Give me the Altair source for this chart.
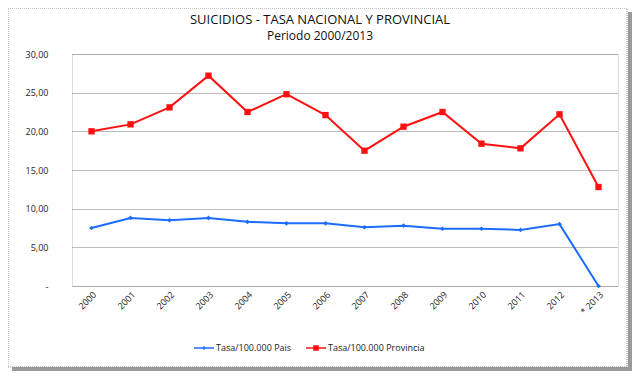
import altair as alt
import pandas as pd

years = ["2000", "2001", "2002", "2003", "2004", "2005", "2006",
         "2007", "2008", "2009", "2010", "2011", "2012", "* 2013"]
pais = [7.5, 8.8, 8.5, 8.8, 8.3, 8.1, 8.1, 7.6, 7.8, 7.4, 7.4, 7.25, 8.0, 0.0]
provincia = [20.0, 20.9, 23.1, 27.2, 22.5, 24.8, 22.1, 17.5, 20.6, 22.5, 18.4, 17.8, 22.2, 12.8]
series = ["Tasa/100.000 Pais", "Tasa/100.000 Provincia"]
colors = ["#1c6dff", "#ff1010"]
title_text = "SUICIDIOS - TASA NACIONAL Y PROVINCIAL"
subtitle_text = "Periodo 2000/2013"

rows = []
for y, v in zip(years, pais):
    rows.append({"anio": y, "serie": series[0], "valor": v})
for y, v in zip(years, provincia):
    rows.append({"anio": y, "serie": series[1], "valor": v})
df = pd.DataFrame(rows)
df["serie_leg"] = df["serie"]

FONT = "Open Sans"
W, H = 546, 232

x_enc = alt.X("anio:N", sort=years, title=None,
              scale=alt.Scale(type="point", padding=0.5),
              axis=alt.Axis(labelAngle=315, domain=False, ticks=False, grid=False,
                            labelFontSize=9, labelColor="#222", labelPadding=4,
                            labelFont=FONT))
y_enc = alt.Y("valor:Q", title=None,
              scale=alt.Scale(domain=[0, 30]),
              axis=alt.Axis(values=[0, 5, 10, 15, 20, 25, 30], domain=False, ticks=False,
                            grid=True, gridDash=[1, 1], gridColor="#7a7a7a", gridWidth=1,
                            labelExpr="datum.value == 0 ? '-' : replace(format(datum.value, '.2f'), '.', ',')",
                            labelFontSize=9, labelColor="#222", labelPadding=24,
                            labelFont=FONT))

color_vis = alt.Color("serie:N", scale=alt.Scale(domain=series, range=colors), legend=None)

base = alt.Chart(df)

lines = base.mark_line(strokeWidth=2).encode(x=x_enc, y=y_enc, color=color_vis)
points = base.mark_point(filled=True, opacity=1).encode(
    x=x_enc, y=y_enc, color=color_vis,
    shape=alt.Shape("serie:N", scale=alt.Scale(domain=series, range=["diamond", "square"]), legend=None),
    size=alt.Size("serie:N", scale=alt.Scale(domain=series, range=[22, 40]), legend=None),
)

leg_paths = [
    "M-1,-0.07L1,-0.07L1,0.07L-1,0.07Z M0,-0.2L0.2,0L0,0.2L-0.2,0Z",
    "M-1,-0.07L1,-0.07L1,0.07L-1,0.07Z M-0.28,-0.28L0.28,-0.28L0.28,0.28L-0.28,0.28Z",
]
legend_layer = base.mark_point(filled=True, opacity=0).encode(
    x=x_enc, y=y_enc,
    color=alt.Color("serie_leg:N", scale=alt.Scale(domain=series, range=colors),
                    legend=alt.Legend(title=None, orient="none", direction="horizontal",
                                      legendX=122, legendY=284, symbolSize=400,
                                      symbolOpacity=1, symbolStrokeWidth=0,
                                      labelFontSize=9, labelFont=FONT, labelColor="#222",
                                      labelOffset=2, columnPadding=14)),
    shape=alt.Shape("serie_leg:N", scale=alt.Scale(domain=series, range=leg_paths), legend=None),
)

one = alt.Data(values=[{"k": 1}])
frame = alt.Chart(one).mark_rect(fill="transparent", stroke="#8a8a8a", strokeWidth=1,
                                 strokeDash=[1, 1]).encode(
    x=alt.value(-64), x2=alt.value(555), y=alt.value(-46), y2=alt.value(313))
shadow_r = alt.Chart(one).mark_rule(color="#9a9a9a", strokeWidth=4).encode(
    x=alt.value(558), y=alt.value(-42), y2=alt.value(317))
shadow_b = alt.Chart(one).mark_rule(color="#9a9a9a", strokeWidth=4).encode(
    x=alt.value(-60), x2=alt.value(560), y=alt.value(315))

title1 = alt.Chart(one).mark_text(font=FONT, fontSize=13, color="#111", align="center",
                                  baseline="middle").encode(
    x=alt.value(248), y=alt.value(-34), text=alt.value(title_text))
title2 = alt.Chart(one).mark_text(font=FONT, fontSize=12, color="#111", align="center",
                                  baseline="middle").encode(
    x=alt.value(248), y=alt.value(-18), text=alt.value(subtitle_text))

chart = alt.layer(shadow_r, shadow_b, frame, title1, title2, lines, points, legend_layer).resolve_scale(
    color="independent", shape="independent"
).properties(
    width=W, height=H,
    autosize=alt.AutoSizeParams(type="none"),
    padding={"left": 64, "top": 46, "right": 15, "bottom": 87},
).configure_view(stroke=None).configure(background="white")

chart.save("out.html", embed_options={"renderer": "svg", "actions": False})
